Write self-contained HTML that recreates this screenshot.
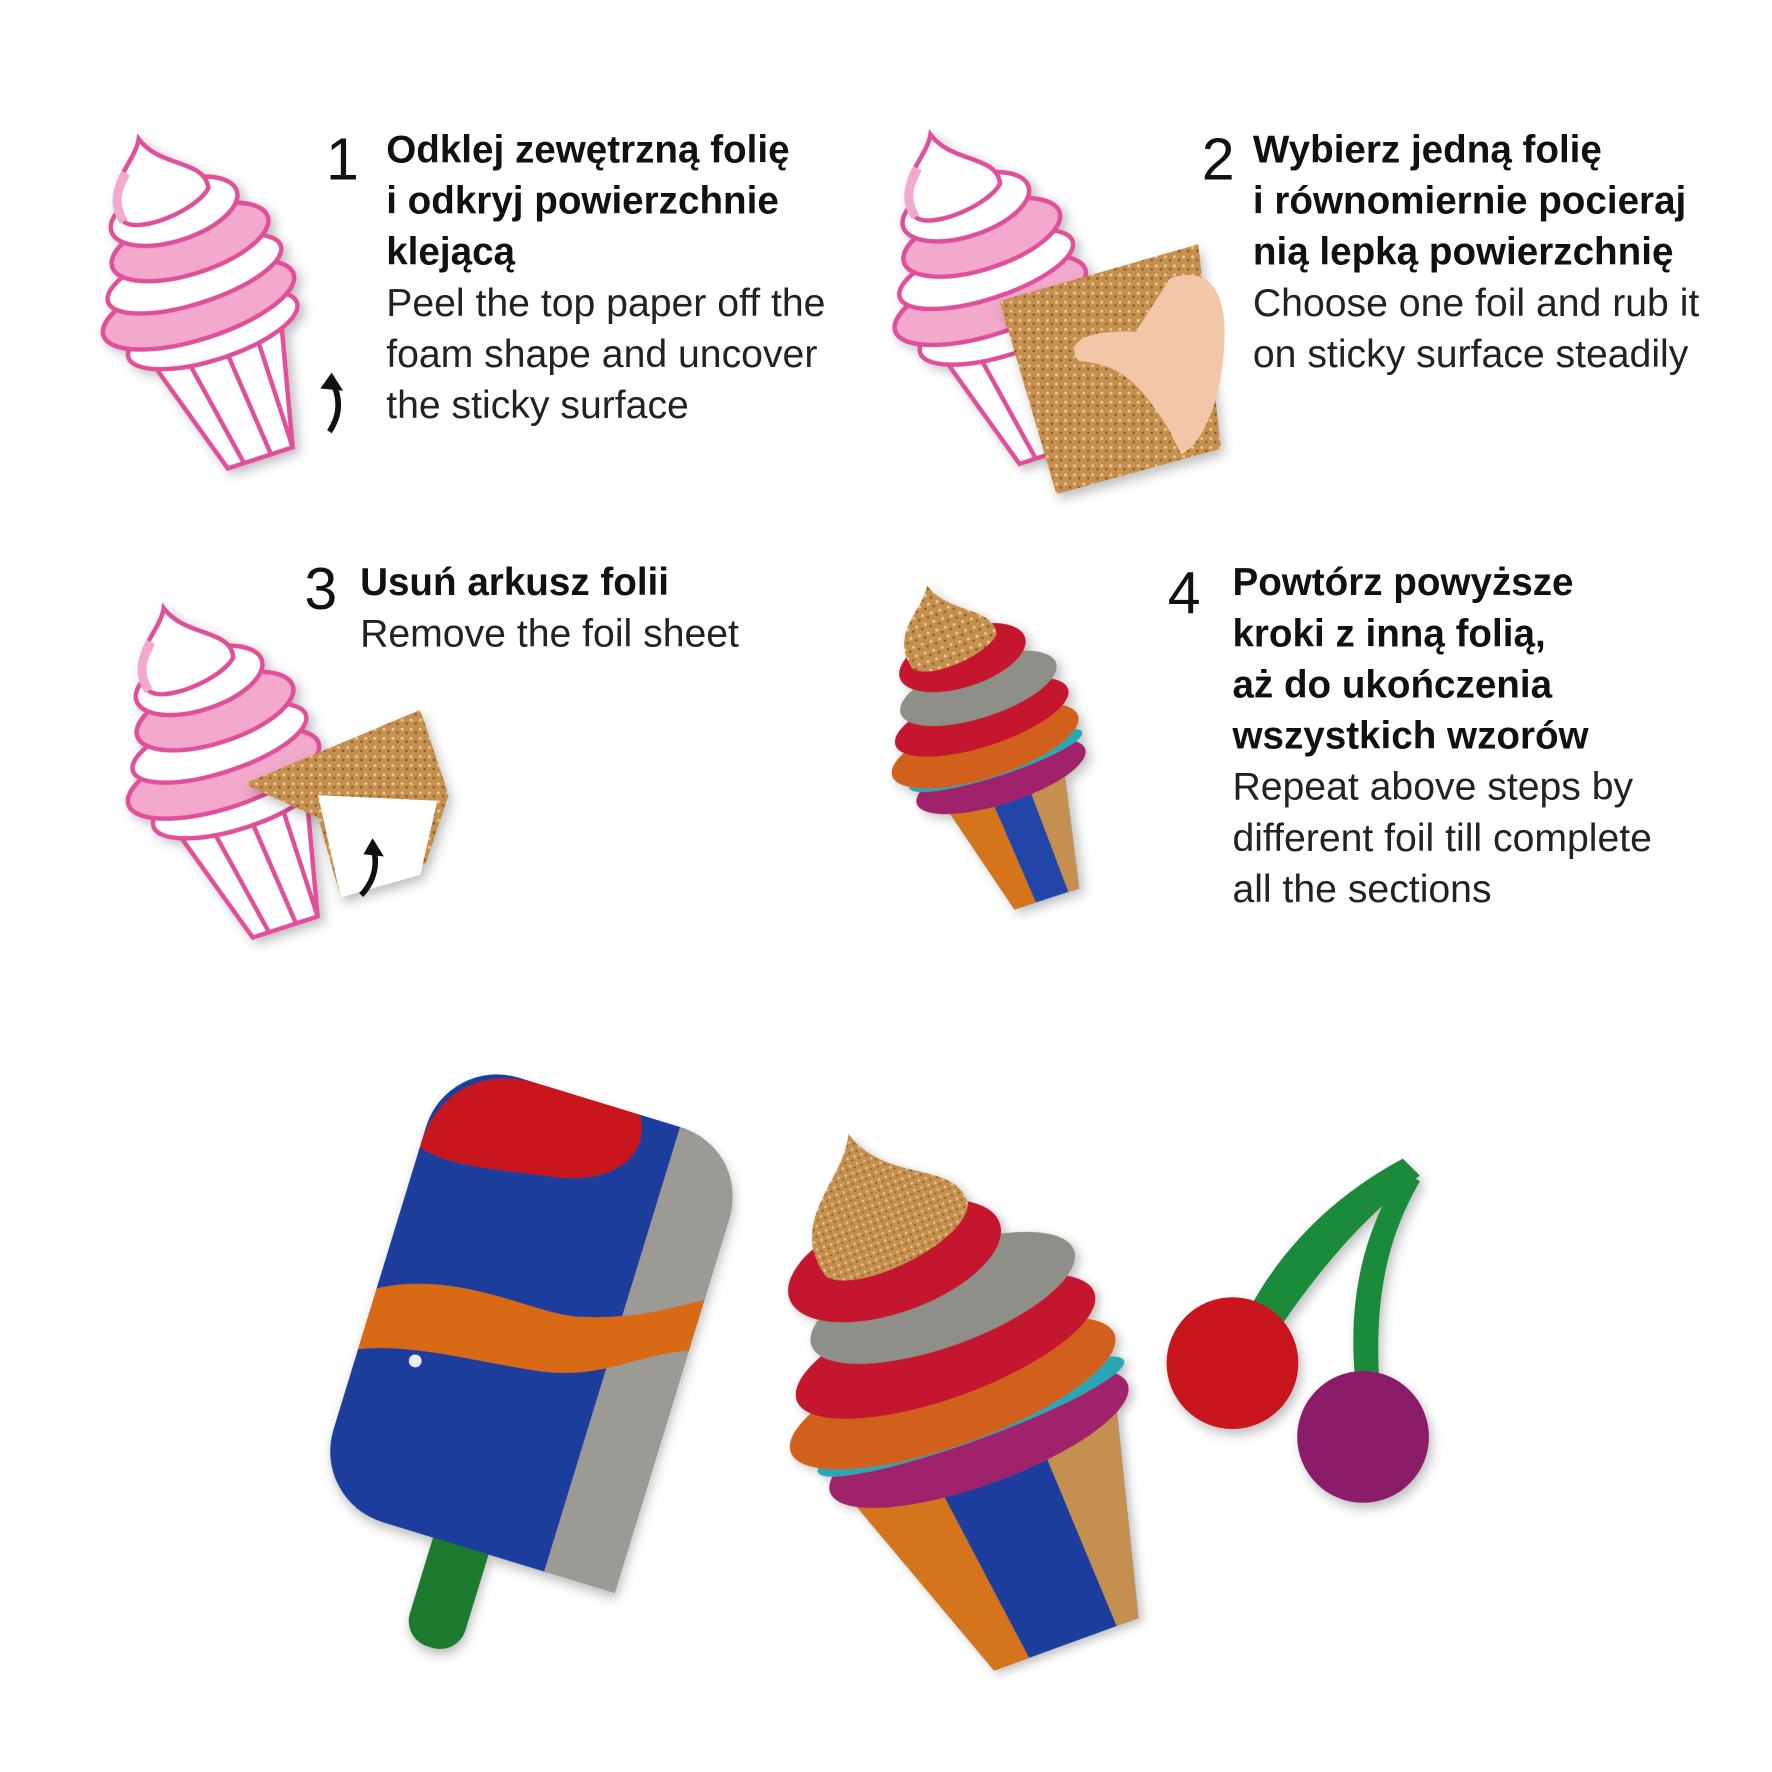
<!DOCTYPE html>
<html><head><meta charset="utf-8"><style>
html,body{margin:0;padding:0;background:#fff;}
svg{display:block}
.b{font-family:"Liberation Sans",sans-serif;font-weight:bold;font-size:34px;fill:#111}
.r{font-family:"Liberation Sans",sans-serif;font-size:34.5px;fill:#222}
.n{font-family:"Liberation Sans",sans-serif;font-size:52px;fill:#111;font-weight:300}
</style></head><body>
<svg width="1772" height="1772" viewBox="0 0 1560 1560" xmlns="http://www.w3.org/2000/svg">
<defs>
<filter id="sh" x="-20%" y="-20%" width="140%" height="140%"><feDropShadow dx="3" dy="5" stdDeviation="5" flood-color="#000" flood-opacity="0.25"/></filter>
<g id="ic">
  <path d="M-60,40 L60,40 L35,150 L-25,150 Z" fill="#fff" stroke="#e0509a" stroke-width="4"/>
  <path d="M-30,45 L-10,150 M5,45 L15,150 M35,45 L35,150" stroke="#e0509a" stroke-width="4"/>
  <ellipse cx="0" cy="30" rx="78" ry="26" fill="#fff" stroke="#e0509a" stroke-width="4"/>
  <ellipse cx="-5" cy="5" rx="88" ry="30" fill="#f3a9cc" stroke="#e0509a" stroke-width="4"/>
  <ellipse cx="0" cy="-22" rx="80" ry="26" fill="#fff" stroke="#e0509a" stroke-width="4"/>
  <ellipse cx="5" cy="-50" rx="72" ry="28" fill="#f3a9cc" stroke="#e0509a" stroke-width="4"/>
  <ellipse cx="0" cy="-80" rx="58" ry="26" fill="#fff" stroke="#e0509a" stroke-width="4"/>
  <path d="M-45,-85 C-55,-120 -20,-130 -10,-150 C0,-120 40,-115 35,-90 C20,-75 -35,-70 -45,-85Z" fill="#fff" stroke="#e0509a" stroke-width="4"/>
  <path d="M-45,-85 C-50,-105 -40,-115 -30,-125" fill="none" stroke="#f3a9cc" stroke-width="8"/>
</g>
<pattern id="gold" width="8" height="8" patternUnits="userSpaceOnUse"><rect width="8" height="8" fill="#c58f4f"/><circle cx="2" cy="2" r="1.3" fill="#f0c98a"/><circle cx="6" cy="5" r="1.1" fill="#8a5a2a"/></pattern>
</defs>

<!-- step 1 -->
<g filter="url(#sh)" transform="translate(178,262) rotate(-18)"><use href="#ic"/></g>
<path d="M290,380 C300,365 300,350 292,335" fill="none" stroke="#111" stroke-width="5"/>
<path d="M282,342 L292,328 L302,344Z" fill="#111"/>
<text class="n" x="287" y="158">1</text>
<text class="b" x="340" y="143">Odklej zewętrzną folię</text>
<text class="b" x="340" y="188">i odkryj powierzchnie</text>
<text class="b" x="340" y="233">klejącą</text>
<text class="r" x="340" y="278">Peel the top paper off the</text>
<text class="r" x="340" y="323">foam shape and uncover</text>
<text class="r" x="340" y="368">the sticky surface</text>

<!-- step 2 -->
<g filter="url(#sh)" transform="translate(875,258) rotate(-18)"><use href="#ic"/></g>
<g filter="url(#sh)"><path d="M880,265 L1055,215 L1075,395 L930,435 Z" fill="url(#gold)"/></g>
<path d="M1030,245 C1060,235 1080,250 1078,300 C1076,350 1060,390 1040,400 L1030,380 C1000,330 980,320 950,318 C935,300 960,290 1000,292 Z" fill="#f4c6a8"/>
<text class="n" x="1058" y="158">2</text>
<text class="b" x="1103" y="143">Wybierz jedną folię</text>
<text class="b" x="1103" y="188">i równomiernie pocieraj</text>
<text class="b" x="1103" y="233">nią lepką powierzchnię</text>
<text class="r" x="1103" y="278">Choose one foil and rub it</text>
<text class="r" x="1103" y="323">on sticky surface steadily</text>

<!-- step 3 -->
<g filter="url(#sh)" transform="translate(200,675) rotate(-18)"><use href="#ic"/></g>
<g filter="url(#sh)"><path d="M215,690 L370,625 L395,700 L375,760 L300,790 L280,720 Z" fill="url(#gold)"/>
<path d="M280,700 L385,705 L370,770 L300,790 Z" fill="#fff"/></g>
<path d="M318,788 C330,775 333,760 328,745" fill="none" stroke="#111" stroke-width="5"/>
<path d="M320,752 L328,738 L338,754Z" fill="#111"/>
<text class="n" x="268" y="536">3</text>
<text class="b" x="317" y="524">Usuń arkusz folii</text>
<text class="r" x="317" y="569">Remove the foil sheet</text>

<!-- step 4 -->
<g filter="url(#sh)" transform="translate(872,655) rotate(-18)">
  <path d="M-55,40 L55,40 L35,145 L-25,145 Z" fill="#2244aa"/>
  <path d="M-55,40 L-15,40 L-5,145 L-25,145Z" fill="#d4741c"/>
  <path d="M20,40 L55,40 L35,145 L25,145Z" fill="#c58f4f"/>
  <ellipse cx="0" cy="30" rx="78" ry="24" fill="#a0246a"/>
  <ellipse cx="0" cy="15" rx="80" ry="14" fill="#2aa7b5"/>
  <ellipse cx="-5" cy="0" rx="86" ry="28" fill="#d0601c"/>
  <ellipse cx="0" cy="-25" rx="80" ry="26" fill="#c4182e"/>
  <ellipse cx="5" cy="-50" rx="72" ry="26" fill="#8f8f8a"/>
  <ellipse cx="0" cy="-80" rx="58" ry="26" fill="#c4182e"/>
  <path d="M-45,-85 C-55,-120 -20,-130 -10,-150 C0,-120 40,-115 35,-90 C20,-75 -35,-70 -45,-85Z" fill="url(#gold)"/>
</g>
<text class="n" x="1028" y="540">4</text>
<text class="b" x="1085" y="524">Powtórz powyższe</text>
<text class="b" x="1085" y="569">kroki z inną folią,</text>
<text class="b" x="1085" y="614">aż do ukończenia</text>
<text class="b" x="1085" y="659">wszystkich wzorów</text>
<text class="r" x="1085" y="704">Repeat above steps by</text>
<text class="r" x="1085" y="749">different foil till complete</text>
<text class="r" x="1085" y="794">all the sections</text>

<!-- popsicle -->
<g filter="url(#sh)" transform="translate(465,1175) rotate(17) scale(0.93)">
  <rect x="-30" y="150" width="55" height="160" rx="25" fill="#1f7a2e"/>
  <rect x="-150" y="-230" width="300" height="440" rx="70" fill="#1e3e9c"/>
  <path d="M80,-230 L80,210 L150,210 L150,-160 C150,-200 120,-230 80,-230Z" fill="#9b9a94"/>
  <path d="M-150,-140 C-150,-200 -110,-230 -60,-230 L40,-230 C60,-200 40,-160 -20,-150 C-80,-140 -120,-130 -150,-140Z" fill="#c8161e"/>
  <path d="M-150,0 C-80,-40 0,-20 40,-30 C100,-45 130,-70 150,-80 L150,-30 C100,-10 80,20 20,30 C-50,40 -100,40 -150,60Z" fill="#d86a15"/>
  <circle cx="-95" cy="55" r="6" fill="#fff" opacity=".9"/>
</g>

<!-- big cone -->
<g filter="url(#sh)" transform="translate(845,1220) rotate(-20) scale(0.82)">
  <path d="M-150,80 L150,80 L95,300 L-70,300 Z" fill="#1e3e9c"/>
  <path d="M-150,80 L-60,80 L-30,300 L-70,300Z" fill="#d4741c"/>
  <path d="M60,80 L150,80 L95,300 L70,300Z" fill="#c58f4f"/>
  <ellipse cx="0" cy="60" rx="170" ry="50" fill="#a0246a"/>
  <ellipse cx="0" cy="35" rx="175" ry="26" fill="#2aa7b5"/>
  <ellipse cx="-10" cy="5" rx="185" ry="55" fill="#d0601c"/>
  <ellipse cx="0" cy="-45" rx="170" ry="55" fill="#c4182e"/>
  <ellipse cx="15" cy="-95" rx="150" ry="52" fill="#8f8f8a"/>
  <ellipse cx="-20" cy="-150" rx="120" ry="55" fill="#c4182e"/>
  <path d="M-95,-160 C-115,-230 -40,-250 -20,-295 C0,-230 80,-230 75,-180 C55,-140 -75,-130 -95,-160Z" fill="url(#gold)"/>
</g>

<!-- cherries -->
<g filter="url(#sh)">
  <path d="M1085,1185 C1110,1120 1160,1060 1235,1020 L1250,1035 C1200,1070 1150,1130 1110,1195Z" fill="#1f8a3a"/>
  <path d="M1195,1230 C1185,1160 1195,1090 1235,1030 L1250,1040 C1215,1100 1210,1160 1215,1230Z" fill="#1f8a3a"/>
  <circle cx="1085" cy="1200" r="58" fill="#c8161e"/>
  <circle cx="1200" cy="1265" r="58" fill="#8a1f6a"/>
</g>
</svg>
</body></html>
